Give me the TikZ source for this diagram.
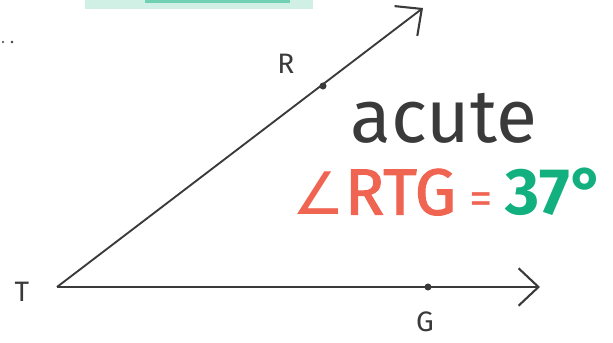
\documentclass[tikz,border=0pt]{standalone}
\usepackage{fontspec}
\setmainfont{Fira Sans}
\newfontfamily\symfont{DejaVu Sans}
\usetikzlibrary{arrows.meta}
\definecolor{pen}{HTML}{3A3A3A}
\definecolor{redpen}{HTML}{F06452}
\definecolor{greenpen}{HTML}{12B07E}
\tikzset{
  ray/.style={pen,line width=1.6pt,-{Straight Barb[length=17pt,width=32pt,line width=1.8pt]}},
  dotmark/.style={circle,fill=pen,inner sep=0pt,minimum size=6pt},
  ptlabel/.style={pen,font=\fontsize{24}{24}\selectfont}
}
\begin{document}
\begin{tikzpicture}[x=0.03cm,y=-0.03cm]
  \useasboundingbox (0,0) rectangle (613,343);
  % cut-off strokes at the edges
  \fill[greenpen!20] (85,0) rectangle (313,9);
  \fill[greenpen!60] (145,0) rectangle (290,3);
  \fill[pen] (3,42) circle (0.9pt);
  \fill[pen] (12,42) circle (1.1pt);
  % the angle
  \coordinate (T) at (57,287);
  \coordinate (tipR) at (423,8);
  \coordinate (tipG) at (540,287);
  \draw[ray] (T) -- (tipR);
  \draw[ray] (T) -- (tipG);
  \node[dotmark] (R) at (323,86) {};
  \node[dotmark] (G) at (428,287) {};
  \node[ptlabel] (labT) at (22,292) {T};
  \node[ptlabel] (labR) at (286,64) {R};
  \node[ptlabel] (labG) at (425,322) {G};
  % text
  \node[pen,font=\fontsize{64}{64}\selectfont] (kind) at (444,118) {acute};
  \node[anchor=west,inner sep=0pt] (meas) at (292,192)
    {{\color{redpen}\symfont\fontsize{50}{50}\selectfont ∠}{\color{redpen}\fontsize{56}{56}\selectfont\addfontfeature{FakeBold=1.5}RTG}\hspace{11pt}{\color{redpen}\fontsize{40}{40}\selectfont =}\hspace{11pt}{\color{greenpen}\fontsize{56}{56}\selectfont\bfseries 37°}};
\end{tikzpicture}
\end{document}
